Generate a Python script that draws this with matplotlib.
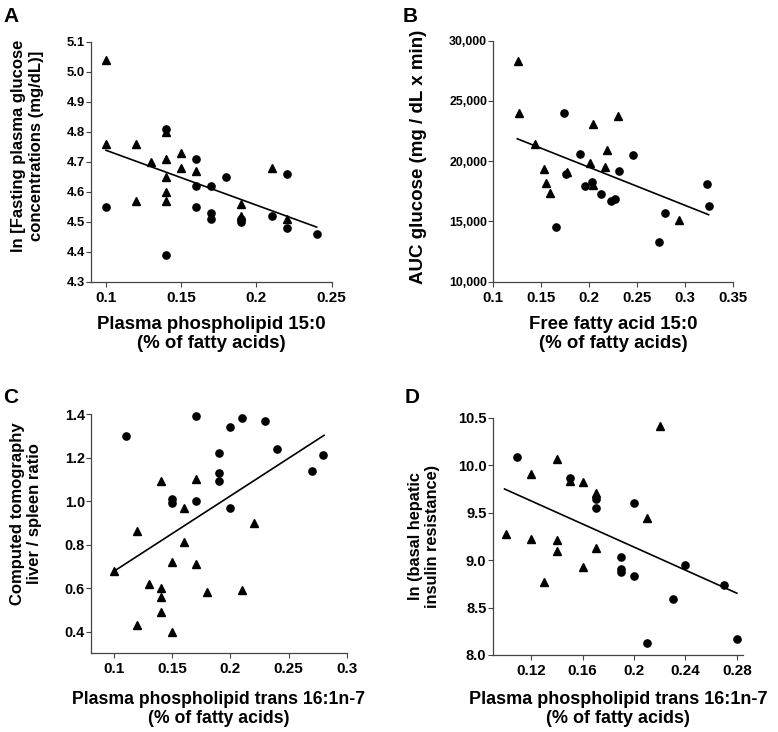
import matplotlib
matplotlib.use("Agg")
import matplotlib.pyplot as plt
import numpy as np

plt.rcParams['font.family'] = ['Liberation Sans', 'DejaVu Sans']
plt.rcParams['font.weight'] = 'bold'

# ---------------- Panel A ----------------
a_tri_x = [0.10, 0.10, 0.12, 0.13, 0.14, 0.14, 0.14, 0.14, 0.14, 0.12, 0.15, 0.15, 0.16, 0.19, 0.19, 0.21, 0.22]
a_tri_y = [5.04, 4.76, 4.76, 4.70, 4.80, 4.71, 4.65, 4.60, 4.57, 4.57, 4.73, 4.68, 4.67, 4.56, 4.52, 4.68, 4.51]
a_cir_x = [0.10, 0.14, 0.16, 0.16, 0.16, 0.17, 0.17, 0.17, 0.18, 0.19, 0.19, 0.21, 0.22, 0.22, 0.24, 0.14]
a_cir_y = [4.55, 4.81, 4.71, 4.62, 4.55, 4.62, 4.53, 4.51, 4.65, 4.51, 4.50, 4.52, 4.66, 4.48, 4.46, 4.39]
a_fit_x = [0.10, 0.24]
a_fit_y = [4.739, 4.483]
a_xticks = [0.1, 0.15, 0.2, 0.25]
a_xticklabels = ["0.1", "0.15", "0.2", "0.25"]
a_yticks = [4.3, 4.4, 4.5, 4.6, 4.7, 4.8, 4.9, 5.0, 5.1]
a_yticklabels = ["4.3", "4.4", "4.5", "4.6", "4.7", "4.8", "4.9", "5.0", "5.1"]

# ---------------- Panel B ----------------
b_tri_x = [0.1253, 0.1267, 0.1438, 0.1528, 0.1549, 0.1587, 0.1767, 0.2003, 0.2042, 0.2042, 0.2167, 0.2188, 0.2302, 0.2938]
b_tri_y = [28330, 24030, 21440, 19360, 18170, 17330, 19080, 19830, 23110, 18030, 19500, 20940, 23750, 15140]
b_cir_x = [0.1740, 0.1753, 0.1906, 0.1951, 0.2028, 0.2118, 0.2222, 0.2267, 0.2313, 0.2455, 0.1653, 0.2792, 0.2729, 0.3222, 0.3243]
b_cir_y = [24000, 18940, 20560, 17920, 18310, 17250, 16690, 16830, 19220, 20530, 14560, 15690, 13330, 18140, 16250]
b_fit_x = [0.125, 0.3243]
b_fit_y = [21860, 15560]
b_xticks = [0.1, 0.15, 0.2, 0.25, 0.3, 0.35]
b_xticklabels = ["0.1", "0.15", "0.2", "0.25", "0.3", "0.35"]
b_yticks = [10000, 15000, 20000, 25000, 30000]
b_yticklabels = ["10,000", "15,000", "20,000", "25,000", "30,000"]

# ---------------- Panel C ----------------
c_cir_x = [0.11, 0.17, 0.20, 0.21, 0.23, 0.24, 0.19, 0.19, 0.19, 0.15, 0.15, 0.17, 0.20, 0.27, 0.28]
c_cir_y = [1.30, 1.39, 1.34, 1.38, 1.37, 1.24, 1.22, 1.13, 1.09, 1.01, 0.99, 1.00, 0.97, 1.14, 1.21]
c_tri_x = [0.10, 0.12, 0.13, 0.14, 0.14, 0.14, 0.14, 0.12, 0.15, 0.15, 0.16, 0.16, 0.17, 0.17, 0.18, 0.21, 0.22]
c_tri_y = [0.68, 0.86, 0.62, 1.09, 0.60, 0.56, 0.49, 0.43, 0.40, 0.72, 0.97, 0.81, 1.10, 0.71, 0.58, 0.59, 0.90]
c_fit_x = [0.10, 0.2805]
c_fit_y = [0.678, 1.302]
c_xticks = [0.1, 0.15, 0.2, 0.25, 0.3]
c_xticklabels = ["0.1", "0.15", "0.2", "0.25", "0.3"]
c_yticks = [0.4, 0.6, 0.8, 1.0, 1.2, 1.4]
c_yticklabels = ["0.4", "0.6", "0.8", "1.0", "1.2", "1.4"]

# ---------------- Panel D ----------------
d_cir_x = [0.109, 0.15, 0.17, 0.17, 0.19, 0.19, 0.19, 0.20, 0.20, 0.23, 0.24, 0.27, 0.21, 0.28]
d_cir_y = [10.09, 9.86, 9.64, 9.55, 9.03, 8.91, 8.87, 9.60, 8.83, 8.59, 8.95, 8.74, 8.13, 8.17]
d_tri_x = [0.10, 0.12, 0.12, 0.13, 0.14, 0.14, 0.14, 0.15, 0.16, 0.16, 0.17, 0.17, 0.21, 0.22]
d_tri_y = [9.28, 9.91, 9.22, 8.77, 10.07, 9.21, 9.10, 9.83, 9.82, 8.93, 9.71, 9.13, 9.44, 10.41]
d_fit_x = [0.0992, 0.28]
d_fit_y = [9.749, 8.651]
d_xticks = [0.12, 0.16, 0.2, 0.24, 0.28]
d_xticklabels = ["0.12", "0.16", "0.2", "0.24", "0.28"]
d_yticks = [8.0, 8.5, 9.0, 9.5, 10.0, 10.5]
d_yticklabels = ["8.0", "8.5", "9.0", "9.5", "10.0", "10.5"]

W, H = 778, 732
fig = plt.figure(figsize=(W / 100, H / 100), dpi=100)


def px_axes(l, r, t, b):
    return fig.add_axes([l / W, 1 - b / H, (r - l) / W, (b - t) / H])


panels = [
    dict(box=(91, 331.7, 42, 282), tri=(a_tri_x, a_tri_y), cir=(a_cir_x, a_cir_y), fit=(a_fit_x, a_fit_y),
         xlim=(0.09, 0.25), ylim=(4.3, 5.1), xt=(a_xticks, a_xticklabels), yt=(a_yticks, a_yticklabels),
         xtfs=11, ytfs=9.4, xlfs=13.4, ylfs=12, ylls=1.25,
         xlabel="Plasma phospholipid 15:0\n(% of fatty acids)", xly=-0.217,
         ylabel="ln [Fasting plasma glucose\nconcentrations (mg/dL)]", ylx=-0.264, yly=0.567,
         letter="A", lpos=(3, 22)),
    dict(box=(493.3, 733.3, 40.7, 281.7), tri=(b_tri_x, b_tri_y), cir=(b_cir_x, b_cir_y), fit=(b_fit_x, b_fit_y),
         xlim=(0.1, 0.35), ylim=(10000, 30000), xt=(b_xticks, b_xticklabels), yt=(b_yticks, b_yticklabels),
         xtfs=10.8, ytfs=8.9, xlfs=13.4, ylfs=13.5, ylls=1.1,
         xlabel="Free fatty acid 15:0\n(% of fatty acids)", xly=-0.217,
         ylabel="AUC glucose (mg / dL x min)", ylx=-0.312, yly=0.52,
         letter="B", lpos=(403, 22)),
    dict(box=(91, 346.7, 414, 653.3), tri=(c_tri_x, c_tri_y), cir=(c_cir_x, c_cir_y), fit=(c_fit_x, c_fit_y),
         xlim=(0.08, 0.3), ylim=(0.3, 1.4), xt=(c_xticks, c_xticklabels), yt=(c_yticks, c_yticklabels),
         xtfs=11, ytfs=10.4, xlfs=12.7, ylfs=12, ylls=1.2,
         xlabel="Plasma phospholipid trans 16:1n-7\n(% of fatty acids)", xly=-0.233,
         ylabel="Computed tomography\nliver / spleen ratio", ylx=-0.255, yly=0.584,
         letter="C", lpos=(3, 403)),
    dict(box=(492.7, 743.3, 417.7, 655), tri=(d_tri_x, d_tri_y), cir=(d_cir_x, d_cir_y), fit=(d_fit_x, d_fit_y),
         xlim=(0.09, 0.285), ylim=(8.0, 10.5), xt=(d_xticks, d_xticklabels), yt=(d_yticks, d_yticklabels),
         xtfs=11, ytfs=10.5, xlfs=13, ylfs=11.8, ylls=1.12,
         xlabel="Plasma phospholipid trans 16:1n-7\n(% of fatty acids)", xly=-0.228,
         ylabel="ln (basal hepatic\ninsulin resistance)", ylx=-0.274, yly=0.50,
         letter="D", lpos=(405, 403)),
]

for p in panels:
    ax = px_axes(*p['box'])
    ax.plot(p['fit'][0], p['fit'][1], color='black', lw=1.2, zorder=2)
    ax.plot(p['tri'][0], p['tri'][1], linestyle='none', marker='^', ms=6.2, color='black', zorder=3, clip_on=False)
    ax.plot(p['cir'][0], p['cir'][1], linestyle='none', marker='o', ms=5.2, color='black', zorder=3, clip_on=False)
    ax.set_xlim(*p['xlim'])
    ax.set_ylim(*p['ylim'])
    ax.set_xticks(p['xt'][0])
    ax.set_xticklabels(p['xt'][1], fontsize=p['xtfs'], fontweight='bold')
    ax.set_yticks(p['yt'][0])
    ax.set_yticklabels(p['yt'][1], fontsize=p['ytfs'], fontweight='bold')
    for s in ['top', 'right']:
        ax.spines[s].set_visible(False)
    for s in ['left', 'bottom']:
        ax.spines[s].set_color('#444444')
        ax.spines[s].set_linewidth(0.9)
    ax.tick_params(axis='both', direction='out', length=3.5, width=0.8, color='#444444')
    ax.tick_params(axis='y', pad=1)
    ax.tick_params(axis='x', pad=3)
    ax.set_xlabel(p['xlabel'], fontsize=p['xlfs'], fontweight='bold', linespacing=1.1)
    ax.xaxis.set_label_coords(0.5, p['xly'])
    ax.xaxis.label.set_va('center')
    ax.set_ylabel(p['ylabel'], fontsize=p['ylfs'], fontweight='bold', linespacing=p['ylls'])
    ax.yaxis.set_label_coords(p['ylx'], p['yly'])
    ax.yaxis.label.set_va('center')
    fig.text(p['lpos'][0] / W, 1 - p['lpos'][1] / H, p['letter'], fontsize=15, fontweight='bold',
             ha='left', va='baseline')

fig.savefig("out.png", dpi=100)
